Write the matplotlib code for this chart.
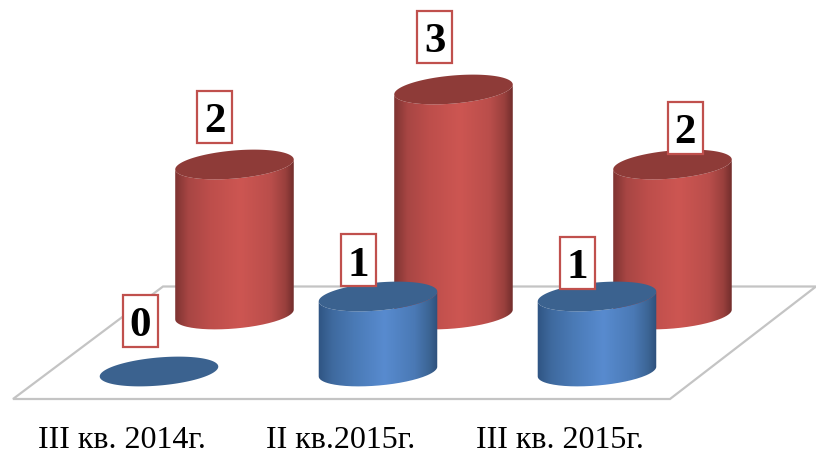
import numpy as np
import matplotlib
matplotlib.use("Agg")
import matplotlib.pyplot as plt
from matplotlib.colors import LinearSegmentedColormap
from matplotlib.patches import PathPatch, Polygon, Rectangle
from matplotlib.path import Path

categories = ["III кв. 2014г.", "II кв.2015г.", "III кв. 2015г."]
front_values = [0, 1, 1]
back_values = [2, 3, 2]

# scene layout, in reference pixels
step = 219
front_x0, front_base = 159, 371.5
back_x0, back_base = 234.5, 314.5
unit = 75
a, b, tilt = 59.5, 14.0, np.radians(5.0)

red_cmap = LinearSegmentedColormap.from_list("red3d", [
    (0, "#7b3230"), (0.12, "#a84644"), (0.3, "#bd4e4b"), (0.55, "#cd5652"),
    (0.8, "#ba4e4b"), (0.92, "#9a403d"), (1, "#6e2c2a")])
blue_cmap = LinearSegmentedColormap.from_list("blue3d", [
    (0, "#2f5482"), (0.12, "#3f6a9f"), (0.3, "#4a7ab6"), (0.55, "#588bcf"),
    (0.8, "#4a79b5"), (0.92, "#3c6595"), (1, "#2c4d78")])

fig = plt.figure(figsize=(8.16, 4.51), dpi=100)
ax = fig.add_axes([0, 0, 1, 1])
ax.axis("off")


def ellipse(cx, cy, t):
    x = cx + a * np.cos(t) * np.cos(tilt) - b * np.sin(t) * np.sin(tilt)
    y = cy - a * np.cos(t) * np.sin(tilt) - b * np.sin(t) * np.cos(tilt)
    return np.column_stack([x, y])


def cylinder(cx, base, value, cmap, top_color):
    top = base - value * unit
    t = np.linspace(0, 2 * np.pi, 120)
    if value > 0:
        # silhouette runs between the two horizontal extremes of the ellipse
        t0 = np.arctan2(-b * np.sin(tilt), a * np.cos(tilt))
        arc = np.linspace(t0, t0 - np.pi, 80)
        side = np.vstack([ellipse(cx, top, arc[::-1]), ellipse(cx, base, arc)])
        clip = PathPatch(Path(np.vstack([side, side[:1]])), fc="none", ec="none",
                         transform=ax.transData)
        ax.add_patch(clip)
        half = a * 1.01
        im = ax.imshow(np.linspace(0, 1, 256)[None, :], cmap=cmap, aspect="auto",
                       extent=[cx - half, cx + half, base + 20, top - 20], zorder=3)
        im.set_clip_path(clip)
    ax.add_patch(Polygon(ellipse(cx, top, t), closed=True, fc=top_color, ec="none", zorder=3))


# floor
floor = [(13, 399), (163, 286.5), (816, 286.5), (670, 399)]
ax.add_patch(Polygon(floor, closed=True, fc="white", ec="#c4c4c4", lw=1.6, zorder=1))

for i, v in enumerate(back_values):
    cylinder(back_x0 + i * step, back_base, v, red_cmap, "#8e3b38")
for i, v in enumerate(front_values):
    cylinder(front_x0 + i * step, front_base, v, blue_cmap, "#3b628f")

# imshow resets the limits, so fix them after the bars
ax.set_xlim(0, 816)
ax.set_ylim(451, 0)


def value_label(x, y, value):
    ax.add_patch(Rectangle((x - 17.5, y - 26), 35, 52, fc="white", ec="#c0504d", lw=1.6, zorder=5))
    ax.text(x, y + 1, str(value), family="Liberation Serif", weight="bold", fontsize=31,
            ha="center", va="center_baseline", color="black", zorder=6)


# label offsets from the top centre of each bar
front_offsets = [(-19, -51), (-19.5, -36.5), (-20, -33.5)]
back_offsets = [(-20, -47.5), (-19, -52.5), (12.5, -37)]
for i, v in enumerate(front_values):
    dx, dy = front_offsets[i]
    value_label(front_x0 + i * step + dx, front_base - v * unit + dy, v)
for i, v in enumerate(back_values):
    dx, dy = back_offsets[i]
    value_label(back_x0 + i * step + dx, back_base - v * unit + dy, v)

for i, name in enumerate(categories):
    ax.text(121.5 + i * step, 448, name, family="Liberation Serif", fontsize=23,
            ha="center", va="baseline", color="black")

fig.savefig("out.png", dpi=100)
